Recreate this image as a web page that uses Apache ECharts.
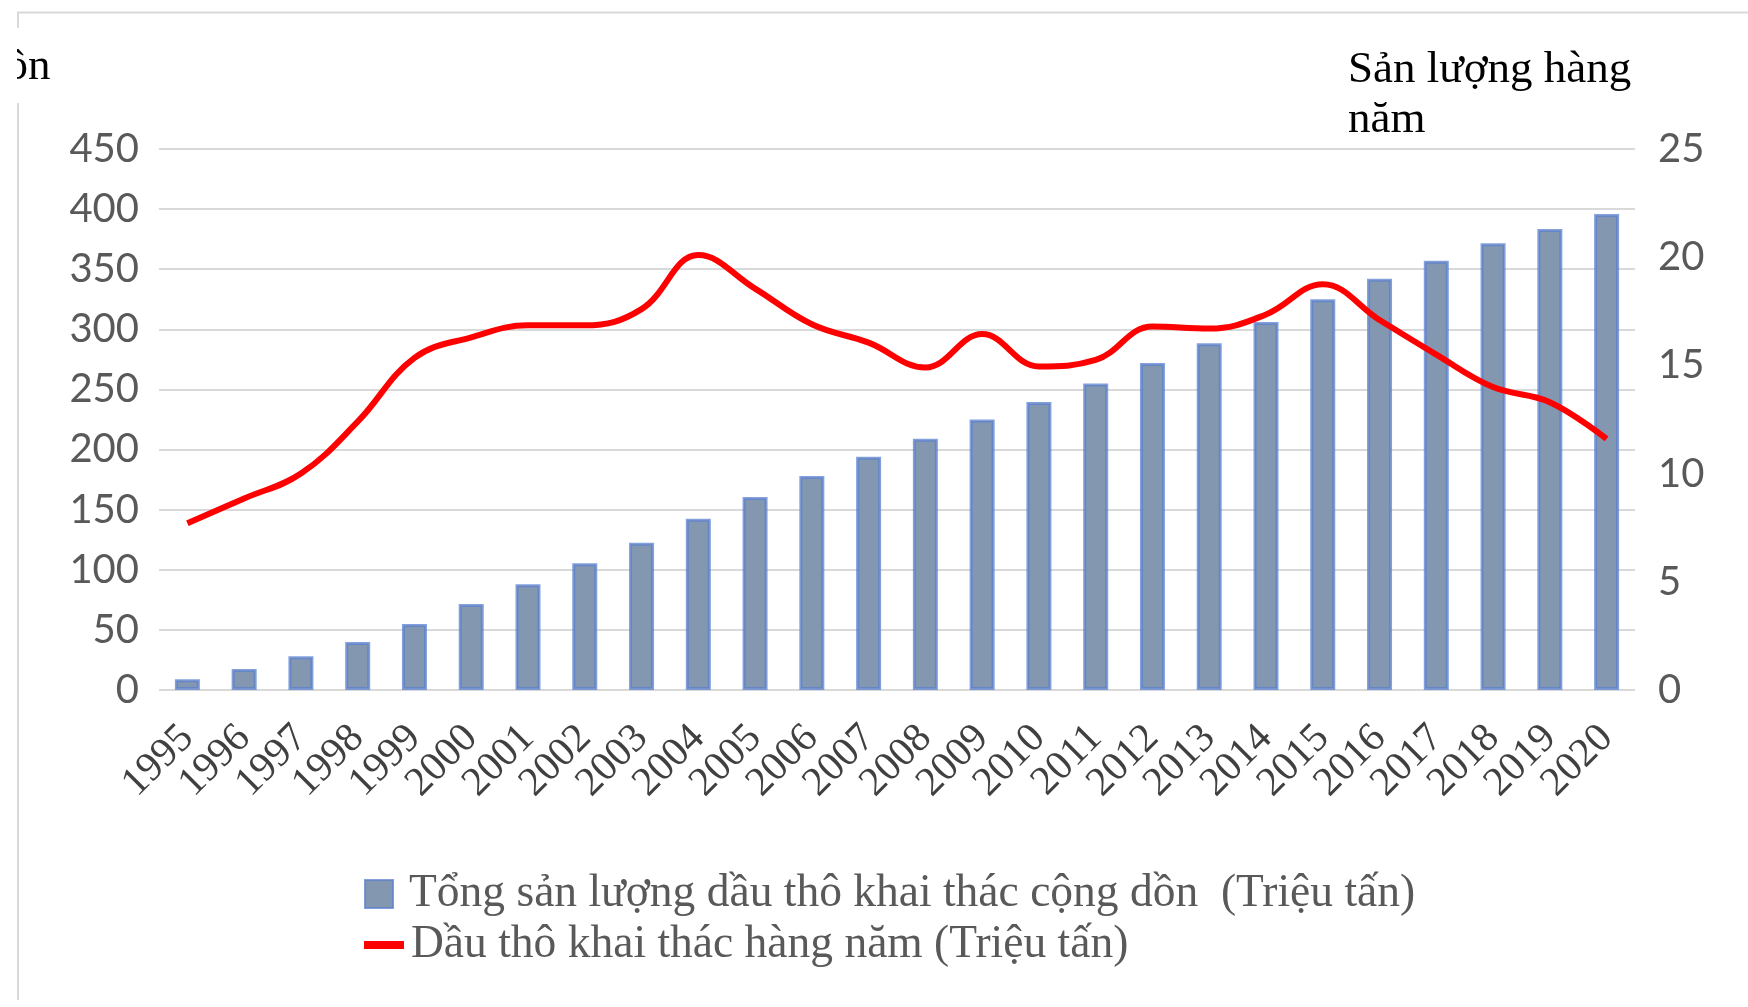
<!DOCTYPE html>
<html>
<head>
<meta charset="utf-8">
<script src="https://cdn.jsdelivr.net/npm/echarts@6/dist/echarts.min.js"></script>
<style>
html,body{margin:0;padding:0;background:#fff;}
#chart{width:1748px;height:1007px;}
</style>
</head>
<body>
<div id="chart"></div>
<script>
const years = ['1995','1996','1997','1998','1999','2000','2001','2002','2003','2004','2005','2006','2007','2008','2009','2010','2011','2012','2013','2014','2015','2016','2017','2018','2019','2020'];
const cumulative = [9, 17.5, 28, 40, 55, 71.5, 88, 105.5, 122.5, 142.5, 160.5, 178, 194, 209, 225, 239.5, 255, 272, 288.5, 306, 325, 342, 357, 371.5, 383.5, 396];
const annual = [7.7, 8.85, 10.0, 12.4, 15.35, 16.3, 16.85, 16.85, 17.6, 20.1, 18.55, 16.9, 16.05, 14.9, 16.45, 14.95, 15.25, 16.8, 16.7, 17.35, 18.75, 17.1, 15.5, 14.0, 13.3, 11.6];
const barName = 'Tổng sản lượng dầu thô khai thác cộng dồn  (Triệu tấn)';
const lineName = 'Dầu thô khai thác hàng năm (Triệu tấn)';
const leftTitle = 'dồn';
const rightTitle = 'Sản lượng hàng\nnăm';

const chart = echarts.init(document.getElementById('chart'), null, {renderer: 'canvas'});
const serif = '"Liberation Serif", "Times New Roman", serif';
const sans = 'Lato, "Open Sans", sans-serif';

chart.setOption({
  backgroundColor: '#fff',
  animation: false,
  title: [
    {text: rightTitle, left: 1343, top: 40, textStyle: {fontFamily: serif, fontSize: 45, fontWeight: 'normal', color: '#000', lineHeight: 50}},
    {text: leftTitle, left: -22, top: 37, textStyle: {fontFamily: serif, fontSize: 45, fontWeight: 'normal', color: '#000', lineHeight: 50}}
  ],
  graphic: [
    {type: 'rect', left: 0, top: 20, shape: {width: 17, height: 90}, style: {fill: '#fff'}, z: 100},
    {type: 'line', shape: {x1: 17, y1: 12.5, x2: 1748, y2: 12.5}, style: {stroke: '#d9d9d9', lineWidth: 2}, z: 101},
    {type: 'line', shape: {x1: 18, y1: 12, x2: 18, y2: 28}, style: {stroke: '#d9d9d9', lineWidth: 2}, z: 101},
    {type: 'line', shape: {x1: 18, y1: 103, x2: 18, y2: 1000}, style: {stroke: '#d9d9d9', lineWidth: 2}, z: 101}
  ],
  legend: [
    {
      data: [barName], left: 359, top: 866, orient: 'vertical',
      itemWidth: 28, itemHeight: 28, icon: 'rect',
      textStyle: {fontFamily: serif, fontSize: 45.5, color: '#595959', padding: [0, 0, 0, 11]}
    },
    {
      data: [lineName], left: 359, top: 917, orient: 'vertical',
      itemWidth: 40, itemHeight: 8, icon: 'rect',
      textStyle: {fontFamily: serif, fontSize: 45.5, color: '#595959', padding: [0, 0, 0, 2]}
    }
  ],
  grid: {left: 159, right: 113, top: 149, bottom: 317, containLabel: false},
  xAxis: {
    type: 'category', data: years, boundaryGap: true,
    axisLine: {show: false}, axisTick: {show: false},
    axisLabel: {rotate: 45, margin: 42, fontFamily: serif, fontSize: 41, color: '#404040', interval: 0}
  },
  yAxis: [
    {
      type: 'value', min: 0, max: 450, interval: 50, position: 'left',
      axisLine: {show: false}, axisTick: {show: false},
      axisLabel: {margin: 20, fontFamily: sans, fontSize: 40, color: '#595959'},
      splitLine: {lineStyle: {color: '#d9d9d9', width: 2}}
    },
    {
      type: 'value', min: 0, max: 25, interval: 5, position: 'right',
      axisLine: {show: false}, axisTick: {show: false},
      axisLabel: {margin: 23, fontFamily: sans, fontSize: 40, color: '#595959'},
      splitLine: {show: false}
    }
  ],
  series: [
    {
      name: barName, type: 'bar', data: cumulative, yAxisIndex: 0, barWidth: 25,
      itemStyle: {color: '#8497b0', borderColor: 'rgba(90,128,205,0.75)', borderWidth: 3}
    },
    {
      name: lineName, type: 'line', data: annual, yAxisIndex: 1, smooth: 0.4,
      symbol: 'none', showSymbol: false,
      lineStyle: {color: '#ff0000', width: 6}, itemStyle: {color: '#ff0000'}, z: 5
    }
  ]
});
</script>
</body>
</html>
